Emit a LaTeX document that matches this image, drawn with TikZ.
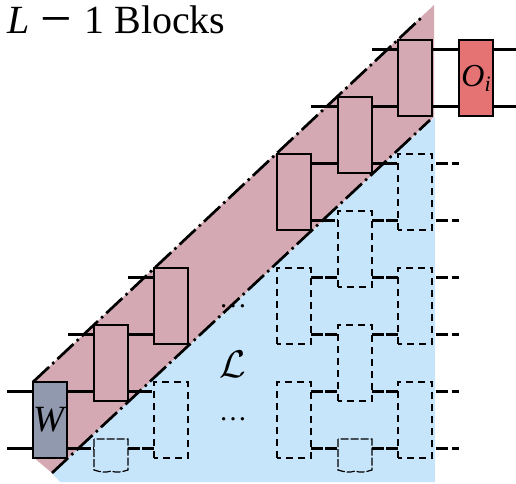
\documentclass[tikz,border=0pt]{standalone}
\usepackage{fontspec}
\setmainfont{Liberation Serif}
\usetikzlibrary{calc}
\definecolor{bandred}{HTML}{D5A9B3}
\definecolor{bandblue}{HTML}{C7E5FA}
\definecolor{wgrey}{HTML}{9099AE}
\definecolor{ored}{HTML}{E57373}
\tikzset{
 x=1pt,y=-1pt,
 blockbox/.style={draw=black,line width=1.4pt,minimum width=34pt,minimum height=76pt,inner sep=0pt,outer sep=0pt,fill=bandred,anchor=north west},
 ghostbox/.style={draw=black,line width=1.2pt,dash pattern=on 7pt off 5pt,dash phase=3pt,minimum width=34pt,minimum height=76pt,inner sep=0pt,outer sep=0pt,anchor=north west},
 wire/.style={line width=2.1pt,line cap=butt},
 ghostwire/.style={line width=2.1pt,dash pattern=on 12pt off 2pt},
 exitwire/.style={line width=2.1pt,dash pattern=on 12pt off 4pt},
 edge/.style={line width=2.7pt,dash pattern=on 22pt off 4.5pt on 2.5pt off 4.5pt},
 wavy/.style={line width=1.2pt,dash pattern=on 8pt off 2pt},
 nolabel/.style={inner sep=0pt,outer sep=0pt}
}
\newcommand{\TT}[1]{([yshift=-9.5pt]#1.north east)}
\newcommand{\TW}[1]{([yshift=-9.5pt]#1.north west)}
\newcommand{\BE}[1]{([yshift=9.5pt]#1.south east)}
\newcommand{\BW}[1]{([yshift=9.5pt]#1.south west)}
\begin{document}
\begin{tikzpicture}
\useasboundingbox (0,0) rectangle (516,483);
% regions
\fill[bandblue] (52,473) -- (60,482) -- (435,482) -- (435,117) -- cycle;
\fill[bandred] (33,382) -- (434,5) -- (434,117) -- (52,473) -- (33,457) -- cycle;
% dots and labels
\node[nolabel,font=\fontsize{28}{28}\selectfont] (dotsa) at (233,306.5) {\ldots};
\node[nolabel,font=\fontsize{28}{28}\selectfont] (dotsb) at (233,419.5) {\ldots};
\node[nolabel] (calL) at (233,364) {\scalebox{1.55}{\fontsize{36}{36}\selectfont$\mathcal{L}$}};
\node[nolabel,anchor=base west,font=\fontsize{40}{40}\selectfont] (title) at (7,33) {\textit{L}\hspace{11pt}\raisebox{-4pt}{\scalebox{1.4}{−}}\hspace{12.5pt}1 Blocks};
% solid blocks
\node[blockbox,fill=wgrey] (w) at (33,382) {\fontsize{37}{37}\selectfont\textit{W}};
\node[blockbox] (a) at (94,325) {};
\node[blockbox] (b) at (154,268) {};
\node[blockbox] (c) at (277,154) {};
\node[blockbox] (d) at (338,97) {};
\node[blockbox] (e) at (398,40) {};
\node[blockbox,fill=ored] (o) at (459,40) {\fontsize{32}{32}\selectfont\textit{O}\raisebox{-5pt}{\fontsize{22}{22}\selectfont\textit{i}}};
% dashed blocks
\node[ghostbox] (g1) at (154,382) {};
\node[ghostbox] (g2) at (277,268) {};
\node[ghostbox] (g3) at (277,382) {};
\node[ghostbox] (g4) at (338,211) {};
\node[ghostbox] (g5) at (338,325) {};
\node[ghostbox] (g6) at (398,154) {};
\node[ghostbox] (g7) at (398,268) {};
\node[ghostbox] (g8) at (398,382) {};
% truncated dashed blocks
\coordinate (t1nw) at (94,439);
\coordinate (t1ne) at (128,439);
\coordinate (t2nw) at (338,439);
\coordinate (t2ne) at (372,439);
\draw[wavy] (t1nw) -- (94,470) .. controls (100,472) and (106,473) .. (111,471) .. controls (116,473) and (122,472) .. (128,470) -- (t1ne) -- cycle;
\draw[wavy] (t2nw) -- (338,470) .. controls (344,472) and (350,473) .. (355,471) .. controls (360,473) and (366,472) .. (372,470) -- (t2ne) -- cycle;
% free ends
\coordinate (wl1) at (7,391.5);
\coordinate (wl2) at (7,448.5);
\coordinate (al) at (68,334.5);
\coordinate (bl) at (128,277.5);
\coordinate (dl) at (311,106.5);
\coordinate (el) at (372,49.5);
\coordinate (or1) at (516,49.5);
\coordinate (or2) at (516,106.5);
% crossing points of the lower band edge
\coordinate (x1) at (79,448.5);
\coordinate (x2) at (140,391.5);
\coordinate (x3) at (323,220.5);
\coordinate (x4) at (385,163.5);
% solid wires
\draw[wire] (wl1) -- \TW{w};
\draw[wire] (wl2) -- \BW{w};
\draw[wire] (al) -- \TW{a};
\draw[wire] (bl) -- \TW{b};
\draw[wire] (dl) -- \TW{d};
\draw[wire] (el) -- \TW{e};
\draw[wire] \TT{w} -- \BW{a};
\draw[wire] \TT{a} -- \BW{b};
\draw[wire] \TT{c} -- \BW{d};
\draw[wire] \TT{d} -- \BW{e};
\draw[wire] \TT{e} -- \TW{o};
\draw[wire] \BE{e} -- \BW{o};
\draw[wire] \TT{o} -- (or1);
\draw[wire] \BE{o} -- (or2);
\draw[wire] \BE{w} -- (x1);
\draw[wire] \BE{a} -- (x2);
\draw[wire] \BE{c} -- (x3);
\draw[wire] \BE{d} -- (x4);
% dashed wires
\draw[ghostwire] (x1) -- (94,448.5);
\draw[ghostwire] (128,448.5) -- \BW{g1};
\draw[ghostwire] (x2) -- \TW{g1};
\draw[ghostwire] (x3) -- \TW{g4};
\draw[ghostwire] (x4) -- \TW{g6};
\draw[ghostwire] \TT{g2} -- \BW{g4};
\draw[ghostwire] \BE{g4} -- \TW{g7};
\draw[ghostwire] \TT{g4} -- \BW{g6};
\draw[ghostwire] \BE{g2} -- \TW{g5};
\draw[ghostwire] \TT{g5} -- \BW{g7};
\draw[ghostwire] \TT{g3} -- \BW{g5};
\draw[ghostwire] \BE{g5} -- \TW{g8};
\draw[ghostwire] \BE{g3} -- (338,448.5);
\draw[ghostwire] (372,448.5) -- \BW{g8};
\foreach \y/\n in {163.5/g6a,220.5/g6b,277.5/g7a,334.5/g7b,391.5/g8a,448.5/g8b}{
  \coordinate (\n) at (459,\y);
  \draw[exitwire] (435.5,\y) -- (\n);
}
% band edges
\coordinate (ua) at (33,382);
\coordinate (ub) at (421,18);
\coordinate (la) at (52,473);
\coordinate (lb) at (430,120);
\draw[edge] (ua) -- (ub);
\draw[edge] (la) -- (lb);
\end{tikzpicture}
\end{document}
